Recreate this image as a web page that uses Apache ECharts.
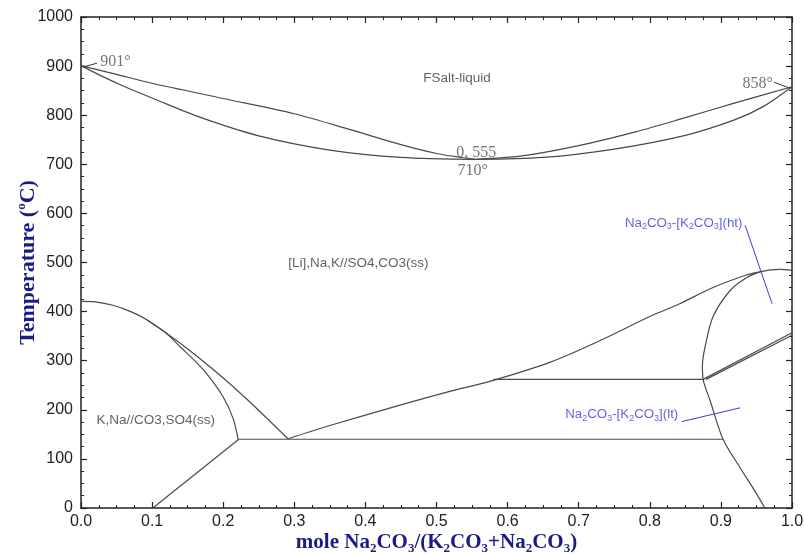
<!DOCTYPE html>
<html>
<head>
<meta charset="utf-8">
<script src="https://cdn.jsdelivr.net/npm/echarts@6/dist/echarts.min.js"></script>
<style>html,body{margin:0;padding:0;background:#fff}#c{width:804px;height:554px}</style>
</head>
<body>
<div id="c"></div>
<script>
// ---- data (x = mole fraction Na2CO3, y = temperature °C) ----
var xTicks = [0, 0.1, 0.2, 0.3, 0.4, 0.5, 0.6, 0.7, 0.8, 0.9, 1.0];
var yTicks = [0, 100, 200, 300, 400, 500, 600, 700, 800, 900, 1000];

var liquidusLeft  = [[0,901],[0.05,883],[0.1,865],[0.2,834],[0.3,803],[0.38,770],[0.45,740],[0.5,722],[0.555,710]];
var solidusLeft   = [[0,901],[0.03,879],[0.06,859],[0.1,835],[0.167,796],[0.25,758],[0.35,729],[0.45,714],[0.555,710]];
var liquidusRight = [[0.555,710],[0.62,717],[0.7,738],[0.78,766],[0.85,795],[0.92,825],[1,858]];
var solidusRight  = [[0.555,710],[0.65,714],[0.75,731],[0.85,759],[0.92,791],[0.96,818],[1,858]];

var domeOuter = [[0,421],[0.02,420],[0.045,413],[0.07,400],[0.093,383],[0.14,335],[0.186,282],[0.233,222],[0.291,141]];
var domeInner = [[0.093,383],[0.12,356],[0.139,329],[0.16,300],[0.177,273],[0.2,226],[0.214,182],[0.221,140]];
var lowLeftLine = [[0.101,0],[0.222,140]];
var line140 = [[0.222,140],[0.903,140]];
var risingCurve = [[0.291,141],[0.35,168],[0.45,210],[0.52,238],[0.58,260],[0.66,297],[0.73,341],[0.8,390],[0.842,416],[0.889,449],[0.937,475],[0.955,481]];
var line262 = [[0.58,262],[0.875,262]];
var htDome = [[0.955,481],[0.937,470],[0.913,443],[0.889,390],[0.878,330],[0.874,290],[0.875,262],[0.885,218],[0.903,140],[0.927,82],[0.945,41],[0.962,0]];
var htTop = [[0.955,481],[0.97,485],[0.983,486],[1,484]];
var diagA = [[0.875,262],[1,357]];
var diagB = [[0.879,262],[1,352]];

var leader901 = [[0.003,898],[0.0225,906]];
var leader858 = [[0.975,867],[0.997,855]];
var leaderHt = [[0.934,576],[0.972,416]];
var leaderLt = [[0.845,176],[0.927,204]];

var grayLabels = [
  {text:'FSalt-liquid', pos:[0.529,876]},
  {text:'[Li],Na,K//SO4,CO3(ss)', pos:[0.39,498]},
  {text:'K,Na//CO3,SO4(ss)', pos:[0.105,178]}
];
var serifLabels = [
  {text:'901°', pos:[0.027,908], align:'left'},
  {text:'858°', pos:[0.973,863], align:'right'},
  {text:'0, 555', pos:[0.556,724], align:'center'},
  {text:'710°', pos:[0.551,686], align:'center'}
];
var blueLabels = [
  {text:'{a|Na}{s|2}{a|CO}{s|3}{a|-[K}{s|2}{a|CO}{s|3}{a|](ht)}', pos:[0.765,580]},
  {text:'{a|Na}{s|2}{a|CO}{s|3}{a|-[K}{s|2}{a|CO}{s|3}{a|](lt)}', pos:[0.681,190]}
];

// ---- chart ----
var chart = echarts.init(document.getElementById('c'), null, {renderer:'canvas'});
var lineColor = '#4a4a4a';
function curve(d, smooth){
  return {type:'line', data:d, showSymbol:false, smooth: smooth||false, silent:true,
    lineStyle:{color:lineColor, width:1.2}, xAxisIndex:0, yAxisIndex:0, z:3};
}
function leader(d, color){
  return {type:'line', data:d, showSymbol:false, silent:true,
    lineStyle:{color:color, width:1}, z:3};
}
var navy = '#1b1b86';
var blue = '#3b3bd8';
var series = [
  curve(liquidusLeft, 0.3), curve(solidusLeft, 0.3), curve(liquidusRight, 0.3), curve(solidusRight, 0.3),
  curve(domeOuter, 0.3), curve(domeInner, 0.3), curve(lowLeftLine), curve(line140),
  curve(risingCurve, 0.3), curve(line262), curve(htDome, 0.3), curve(htTop, 0.3), curve(diagA), curve(diagB),
  leader(leader901, '#333'), leader(leader858, '#333'), leader(leaderHt, blue), leader(leaderLt, blue),
  {type:'scatter', symbolSize:0, silent:true, z:5,
    data: grayLabels.map(function(l){return {value:l.pos, name:l.text};}),
    label:{show:true, position:'inside', formatter:'{b}', color:'#3a3a3a',
      fontFamily:'Liberation Sans, Arial, sans-serif', fontSize:13.5}},
  {type:'scatter', symbolSize:0, silent:true, z:5,
    data: serifLabels.map(function(l){return {value:l.pos, name:l.text,
      label:{align:l.align}};}),
    label:{show:true, position:'inside', formatter:'{b}', color:'#505050',
      fontFamily:'Liberation Serif, Times New Roman, serif', fontSize:16}},
  {type:'scatter', symbolSize:0, silent:true, z:5,
    data: blueLabels.map(function(l){return {value:l.pos, name:l.text};}),
    label:{show:true, position:'inside', formatter:'{b}', align:'left',
      rich:{
        a:{color:blue, fontFamily:'Liberation Sans, Arial, sans-serif', fontSize:13.3, lineHeight:16, verticalAlign:'middle'},
        s:{color:blue, fontFamily:'Liberation Sans, Arial, sans-serif', fontSize:9, lineHeight:9, verticalAlign:'bottom'}
      }}}
];

var axisLineStyle = {color:'#222', width:1.5};
var option = {
  animation:false,
  backgroundColor:'#fff',
  grid:{left:81, right:12, top:17, bottom:46, containLabel:false, outerBoundsMode:'none'},
  xAxis:[
    {type:'value', min:0, max:1, interval:0.1, position:'bottom',
     axisLine:{show:true, onZero:false, lineStyle:axisLineStyle},
     axisTick:{show:true, inside:true, length:6, lineStyle:{color:'#222', width:1.2}},
     minorTick:{show:true, splitNumber:4, length:3, lineStyle:{color:'#222', width:1}},
     splitLine:{show:false},
     axisLabel:{margin:6, fontSize:16, color:'#222', fontFamily:'Liberation Sans, Arial, sans-serif',
       formatter:function(v){return v.toFixed(1);}},
     name:'{a|mole Na}{s|2}{a|CO}{s|3}{a|/(K}{s|2}{a|CO}{s|3}{a|+Na}{s|2}{a|CO}{s|3}{a|)}',
     nameLocation:'middle', nameGap:23, nameMoveOverlap:false,
     nameTextStyle:{rich:{
       a:{color:navy, fontFamily:'Liberation Serif, Times New Roman, serif', fontWeight:'bold', fontSize:21, lineHeight:24, verticalAlign:'middle'},
       s:{color:navy, fontFamily:'Liberation Serif, Times New Roman, serif', fontWeight:'bold', fontSize:13, lineHeight:13, verticalAlign:'bottom'}
     }}},
    {type:'value', min:0, max:1, interval:0.1, position:'top',
     axisLine:{show:true, onZero:false, lineStyle:axisLineStyle},
     axisTick:{show:true, inside:true, length:6, lineStyle:{color:'#222', width:1.2}},
     minorTick:{show:true, splitNumber:4, length:3, lineStyle:{color:'#222', width:1}},
     splitLine:{show:false}, axisLabel:{show:false}}
  ],
  yAxis:[
    {type:'value', min:0, max:1000, interval:100, position:'left',
     axisLine:{show:true, onZero:false, lineStyle:axisLineStyle},
     axisTick:{show:true, inside:true, length:6, lineStyle:{color:'#222', width:1.2}},
     minorTick:{show:true, splitNumber:4, length:3, lineStyle:{color:'#222', width:1}},
     splitLine:{show:false},
     axisLabel:{margin:8, fontSize:16, color:'#222', fontFamily:'Liberation Sans, Arial, sans-serif',
       formatter:function(v){return String(v);}},
     name:'{a|Temperature (}{p|o}{a|C)}', nameLocation:'middle', nameGap:40, nameMoveOverlap:false,
     nameTextStyle:{rich:{
       a:{color:navy, fontFamily:'Liberation Serif, Times New Roman, serif', fontWeight:'bold', fontSize:22, lineHeight:26, verticalAlign:'middle'},
       p:{color:navy, fontFamily:'Liberation Serif, Times New Roman, serif', fontWeight:'bold', fontSize:13, lineHeight:13, verticalAlign:'top'}
     }}},
    {type:'value', min:0, max:1000, interval:100, position:'right',
     axisLine:{show:true, onZero:false, lineStyle:axisLineStyle},
     axisTick:{show:true, inside:true, length:6, lineStyle:{color:'#222', width:1.2}},
     minorTick:{show:true, splitNumber:4, length:3, lineStyle:{color:'#222', width:1}},
     splitLine:{show:false}, axisLabel:{show:false}}
  ],
  series:series
};
chart.setOption(option);
</script>
</body>
</html>
